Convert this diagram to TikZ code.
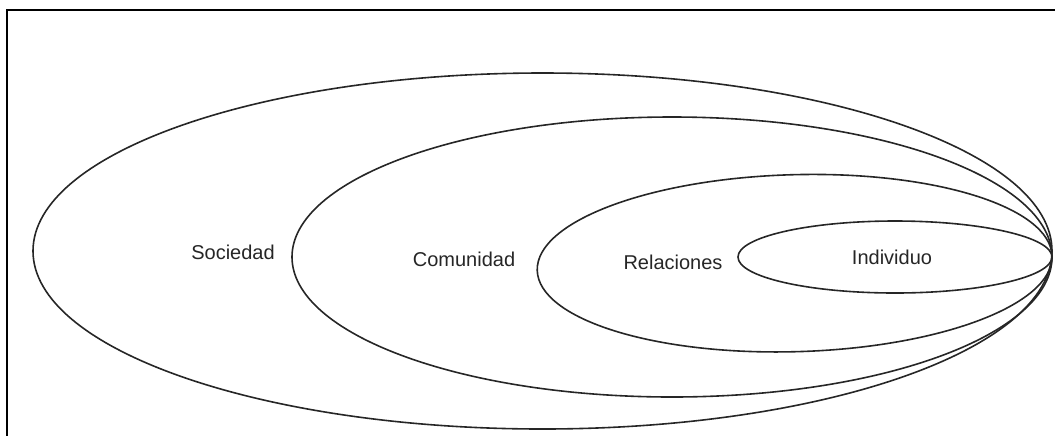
\documentclass[tikz,border=0pt]{standalone}
\usepackage{fontspec}
\setmainfont{Liberation Sans}
\tikzset{
  ring/.style={draw=black!85, line width=0.8pt},
  lbl/.style={font=\fontsize{10}{12}\selectfont, text=black!85, inner sep=0pt}
}
\begin{document}
\begin{tikzpicture}[x=0.5pt,y=-0.5pt]
\useasboundingbox (0,0) rectangle (1055,435);
\clip (0,0) rectangle (1055,435);
% frame
\draw[line width=1.1pt] (7,440) -- (7,10) -- (1062,10);
% nested ellipses meeting at the right
\coordinate (tip) at (1052,256);
\draw[ring] (542.5,251) ellipse [x radius=509.5, y radius=178];
\draw[ring] (672,257) ellipse [x radius=380, y radius=140];
\draw[ring, rotate around={1.6:(tip)}] (794.5,256) ellipse [x radius=257.5, y radius=88.5];
\draw[ring] (895,257) ellipse [x radius=157, y radius=36];
% labels
\node[lbl] (soc) at (233,252) {Sociedad};
\node[lbl] (com) at (464,259) {Comunidad};
\node[lbl] (rel) at (673,262) {Relaciones};
\node[lbl] (ind) at (892,257) {Individuo};
\end{tikzpicture}
\end{document}
